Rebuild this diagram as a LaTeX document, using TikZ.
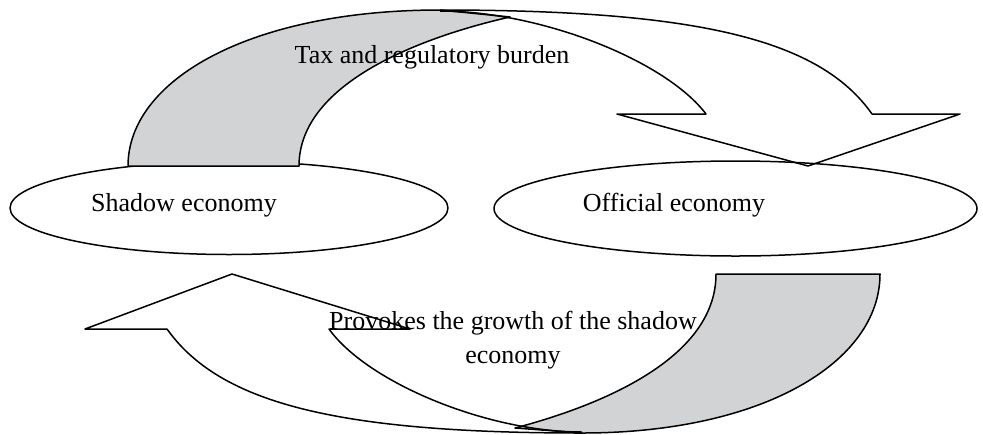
\documentclass[tikz,border=0pt]{standalone}
\usepackage{fontspec}
\setmainfont{Liberation Serif}
\usepackage{tikz}
\definecolor{bandgray}{RGB}{209,211,212}

\begin{document}
\begin{tikzpicture}[x=0.5pt, y=-0.5pt, line width=0.75pt, line join=round,
    txt/.style={inner sep=0pt, font=\fontsize{13}{17}\selectfont},
    backband/.style={draw, fill=bandgray}]

    \useasboundingbox (0,0) rectangle (983,434);

    % Economy Ellipses
    \draw[fill=white] (229,208) ellipse [x radius=219, y radius=46.5];
    \draw[fill=white] (735.5,208.5) ellipse [x radius=241.5, y radius=47.5];
    \node[txt, anchor=base] (shadow) at (184,211) {Shadow economy};
    \node[txt, anchor=base] (official) at (674,211) {Official economy};

    % --- Upper arrow: shadow -> official ---
    % shaded back of the band
    \draw[backband] (128,166) .. controls (128,80) and (250,10) .. (440,10)
        -- (510,17) .. controls (430,35) and (299,80) .. (299,166) -- cycle;
    % front of the band with the head
    \draw (440,10) .. controls (700,10) and (820,40) .. (872,114)
        -- (960,114) -- (808,166) -- (617,114) -- (706,114)
        .. controls (665,60) and (540,11) .. (440,11);
    \node[txt, anchor=base] (burden) at (432,63) {Tax and regulatory burden};

    % --- Lower arrow: official -> shadow ---
    \draw[backband] (880,274) .. controls (880,362) and (763,433) .. (582,433)
        -- (515,428) .. controls (591,408) and (716,362) .. (716,274) -- cycle;
    \draw (582,433) .. controls (333,433) and (219,402) .. (167,329)
        -- (85,329) -- (232,274) -- (410,329) -- (329,329)
        .. controls (367,382) and (486,432) .. (582,432);
    \node[txt, align=center] (growth) at (513,340) {Provokes the growth of the shadow\\economy};

\end{tikzpicture}
\end{document}
